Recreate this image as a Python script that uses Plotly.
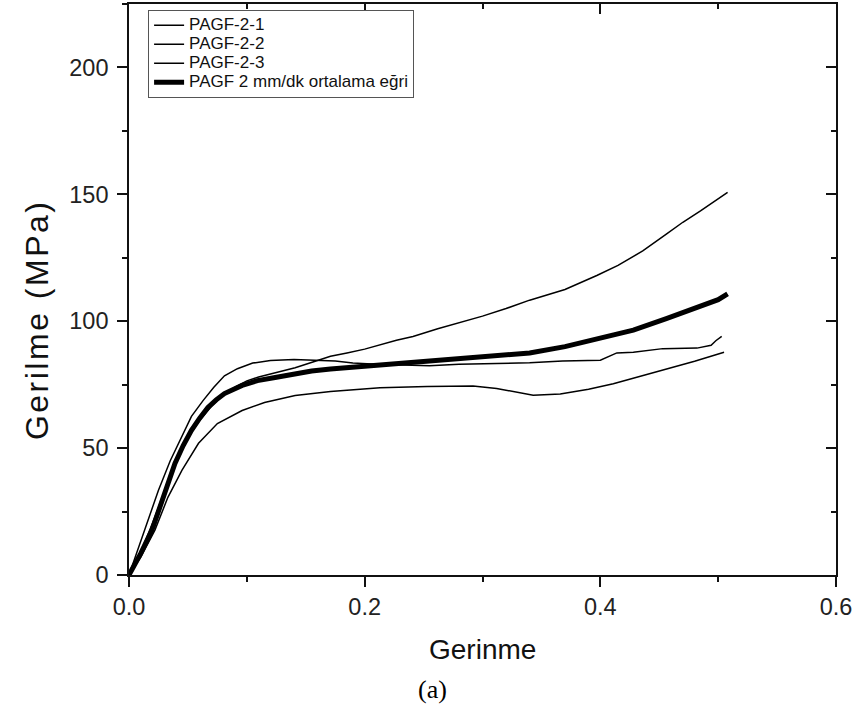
import plotly.graph_objects as go

# ---- data ----
b_x = [0, 0.0136, 0.025, 0.035, 0.045, 0.053, 0.063, 0.072, 0.081, 0.092, 0.105, 0.12, 0.14, 0.162, 0.175, 0.19,
       0.21, 0.255, 0.28, 0.312, 0.34, 0.368, 0.4, 0.414, 0.428, 0.453, 0.482, 0.494, 0.498, 0.503]
b_y = [0, 17.7, 33.4, 45, 55, 62.5, 68.8, 74, 78.5, 81.3, 83.5, 84.5, 84.9, 84.6, 84.3, 83.5,
       83, 82.5, 83, 83.3, 83.6, 84.3, 84.6, 87.5, 87.8, 89.2, 89.4, 90.5, 92.3, 94]

c_x = [0, 0.01, 0.02, 0.03, 0.04, 0.05, 0.06, 0.07, 0.08, 0.09, 0.1, 0.11, 0.12, 0.128, 0.141, 0.16, 0.171,
       0.185, 0.2, 0.227, 0.241, 0.262, 0.283, 0.3, 0.32, 0.34, 0.37, 0.397, 0.415, 0.436, 0.456, 0.47,
       0.485, 0.497, 0.508]
c_y = [0, 9, 20.5, 33, 45, 54, 61, 66.5, 71, 74, 76.5, 78, 79.2, 80, 81.7, 84.5, 86.2,
       87.5, 89, 92.5, 94, 97, 99.8, 102, 105, 108.3, 112.5, 118, 122, 127.7, 134.3, 139,
       143.5, 147.5, 150.8]

d_x = [0, 0.01, 0.022, 0.033, 0.045, 0.059, 0.075, 0.096, 0.115, 0.128, 0.141, 0.171, 0.213, 0.253, 0.292,
       0.312, 0.334, 0.343, 0.366, 0.39, 0.411, 0.43, 0.453, 0.48, 0.505]
d_y = [0, 7, 17.7, 30.6, 41.3, 51.9, 59.7, 64.8, 68, 69.3, 70.7, 72.3, 73.8, 74.3, 74.5,
       73.5, 71.5, 70.8, 71.3, 73.2, 75.4, 77.8, 80.6, 84.2, 87.8]

m_x = [0, 0.01, 0.0195, 0.0305, 0.039, 0.046, 0.053, 0.06, 0.067, 0.074, 0.081, 0.096, 0.109, 0.124, 0.141,
       0.155, 0.171, 0.185, 0.2, 0.227, 0.255, 0.283, 0.31, 0.34, 0.37, 0.397, 0.428, 0.456, 0.482, 0.5, 0.508]
m_y = [0, 8.5, 17.7, 33.4, 44, 51, 57, 61.8, 66, 69, 71.5, 74.7, 76.6, 77.8, 79.4,
       80.4, 81.2, 81.7, 82.3, 83.3, 84.3, 85.5, 86.5, 87.5, 90, 93, 96.5, 101, 105.2, 108.5, 110.8]

names = ["PAGF-2-1", "PAGF-2-2", "PAGF-2-3", "PAGF 2 mm/dk ortalama eğri"]
x_ticks = [0.0, 0.2, 0.4, 0.6]
x_tick_labels = ["0.0", "0.2", "0.4", "0.6"]
y_ticks = [0, 50, 100, 150, 200]
y_tick_labels = ["0", "50", "100", "150", "200"]

fig = go.Figure()
series = [(b_x, b_y, 1.5), (c_x, c_y, 1.5), (d_x, d_y, 1.5), (m_x, m_y, 5)]
for (xs, ys, w), nm in zip(series, names):
    fig.add_trace(go.Scatter(x=xs, y=ys, mode="lines",
                             name='<span style="font-size:17px">' + nm + '</span>',
                             line=dict(color="black", width=w), hoverinfo="skip"))

# empty trace to create mirrored top/right axes with inside ticks
fig.add_trace(go.Scatter(x=[], y=[], xaxis="x2", yaxis="y2", showlegend=False, hoverinfo="skip"))

font_ax = "Liberation Sans, Arial, sans-serif"
common = dict(showgrid=False, zeroline=False, linecolor="#111", linewidth=1.6,
              tickcolor="#111", tickwidth=1.6, automargin=False)

fig.update_layout(
    width=859, height=713,
    margin=dict(l=129, r=23, t=4, b=138, autoexpand=False),
    paper_bgcolor="white", plot_bgcolor="white",
    font=dict(family=font_ax, color="#111"),
    showlegend=True,
    legend=dict(x=0.027, y=0.99, xanchor="left", yanchor="top",
                bgcolor="white", bordercolor="#555", borderwidth=1,
                font=dict(size=11.5, family=font_ax, color="#111"),
                tracegroupgap=0, itemwidth=30),
    xaxis=dict(range=[0, 0.6], tickvals=x_ticks, ticktext=x_tick_labels,
               ticks="outside", ticklen=10, showline=True, mirror=True,
               tickfont=dict(size=23.5, family=font_ax, color="#222"),
               ticklabelstandoff=0,
               minor=dict(dtick=0.1, ticks="outside", ticklen=5, tickcolor="#111", tickwidth=1.6),
               **common),
    yaxis=dict(range=[0, 225], tickvals=y_ticks, ticktext=y_tick_labels,
               ticks="outside", ticklen=10, showline=True, mirror=True,
               tickfont=dict(size=23.5, family=font_ax, color="#222"),
               ticklabelstandoff=4,
               minor=dict(dtick=25, ticks="outside", ticklen=5, tickcolor="#111", tickwidth=1.6),
               **common),
    xaxis2=dict(range=[0, 0.6], overlaying="x", side="top", anchor="y2",
                tickvals=x_ticks, showticklabels=False, ticks="inside", ticklen=10,
                showline=False,
                minor=dict(dtick=0.1, ticks="inside", ticklen=5, tickcolor="#111", tickwidth=1.6),
                **common),
    yaxis2=dict(range=[0, 225], overlaying="y", side="right", anchor="x2",
                tickvals=y_ticks, showticklabels=False, ticks="inside", ticklen=10,
                showline=False,
                minor=dict(dtick=25, ticks="inside", ticklen=5, tickcolor="#111", tickwidth=1.6),
                **common),
    annotations=[
        dict(text='<span style="letter-spacing:2.5px">Gerilme (MPa)</span>', textangle=-90,
             xref="paper", yref="paper",
             x=-0.130, y=0.4466, xanchor="center", yanchor="middle", showarrow=False,
             font=dict(size=32, family=font_ax, color="#111")),
        dict(text="Gerinme", xref="paper", yref="paper",
             x=0.5007, y=-0.131, xanchor="center", yanchor="middle", showarrow=False,
             font=dict(size=28, family=font_ax, color="#111")),
        dict(text="(a)", xref="paper", yref="paper",
             x=0.4286, y=-0.2014, xanchor="center", yanchor="middle", showarrow=False,
             font=dict(size=26, family="Liberation Serif, Times New Roman, serif", color="#000")),
    ],
)

fig.write_html("out.html", config={"displayModeBar": False},
               post_script="document.body.style.margin='0';document.body.style.padding='0';")
